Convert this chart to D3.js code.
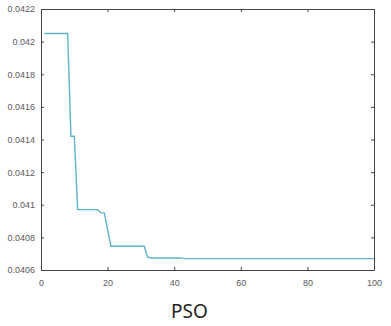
<!DOCTYPE html>
<html>
<head>
<meta charset="utf-8">
<script src="https://cdn.jsdelivr.net/npm/d3@7"></script>
<style>
  html, body { margin: 0; padding: 0; background: #fff; }
  svg { display: block; }
</style>
</head>
<body>
<svg id="chart" width="391" height="326"></svg>
<script>
// Best fitness per PSO iteration (points where the curve changes)
const iterations = [1, 8, 9, 10, 11, 17, 18, 19, 21, 31, 32, 33, 42, 43, 100];
const fitness = [0.04205, 0.04205, 0.04142, 0.04142, 0.04097, 0.04097, 0.04095, 0.04095,
                 0.040746, 0.040746, 0.04068, 0.040674, 0.040674, 0.04067, 0.04067];
const xTicks = [0, 20, 40, 60, 80, 100];
const yTicks = [0.0406, 0.0408, 0.041, 0.0412, 0.0414, 0.0416, 0.0418, 0.042, 0.0422];
const title = "PSO";

const svg = d3.select("#chart");
const plot = { left: 41, right: 374, top: 9, bottom: 270 };

const x = d3.scaleLinear().domain([0, 100]).range([plot.left, plot.right]);
const y = d3.scaleLinear().domain([0.0406, 0.0422]).range([plot.bottom, plot.top]);

const axisColor = "#444";
const fmt = d => String(+d.toFixed(4));

// Axes with inward ticks on all four sides
const gB = svg.append("g").attr("transform", `translate(0,${plot.bottom})`)
  .call(d3.axisBottom(x).tickValues(xTicks).tickSizeInner(-3).tickSizeOuter(0).tickPadding(10).tickFormat(d3.format("d")));
const gT = svg.append("g").attr("transform", `translate(0,${plot.top})`)
  .call(d3.axisTop(x).tickValues(xTicks).tickSizeInner(-3).tickSizeOuter(0).tickFormat(""));
const gL = svg.append("g").attr("transform", `translate(${plot.left},0)`)
  .call(d3.axisLeft(y).tickValues(yTicks).tickSizeInner(-3).tickSizeOuter(0).tickPadding(6).tickFormat(fmt));
const gR = svg.append("g").attr("transform", `translate(${plot.right},0)`)
  .call(d3.axisRight(y).tickValues(yTicks).tickSizeInner(-3).tickSizeOuter(0).tickFormat(""));

[gB, gT, gL, gR].forEach(g => {
  g.select(".domain").attr("stroke", axisColor).attr("stroke-width", 1);
  g.selectAll(".tick line").attr("stroke", axisColor);
  g.selectAll(".tick text")
    .attr("fill", "#5a5a5a")
    .style("font-family", "'Liberation Sans', Arial, sans-serif")
    .style("font-size", "9px");
});

// Fitness curve
const pts = iterations.map((it, i) => [it, fitness[i]]);
svg.append("path")
  .datum(pts)
  .attr("fill", "none")
  .attr("stroke", "#5fb2c9")
  .attr("stroke-width", 1.4)
  .attr("d", d3.line().x(d => x(d[0])).y(d => y(d[1])));

// Caption
svg.append("text")
  .attr("x", 189.5)
  .attr("y", 318)
  .attr("text-anchor", "middle")
  .attr("fill", "#222")
  .style("font-family", "'Noto Sans', 'Open Sans', sans-serif")
  .style("font-size", "19px")
  .text(title);
</script>
</body>
</html>
